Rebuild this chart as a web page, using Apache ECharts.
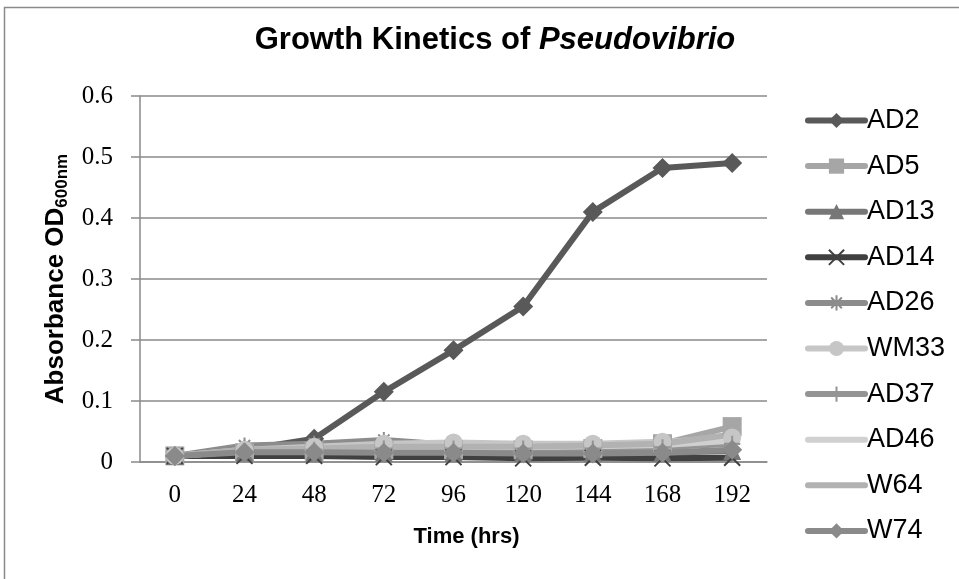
<!DOCTYPE html>
<html>
<head>
<meta charset="utf-8">
<script src="https://cdn.jsdelivr.net/npm/echarts@6/dist/echarts.min.js"></script>
<style>
  html, body { margin: 0; padding: 0; background: #fff; }
  #chart { width: 959px; height: 579px; }
</style>
</head>
<body>
<div id="chart"></div>
<script>
// sampling times (hrs)
const hours = ['0', '24', '48', '72', '96', '120', '144', '168', '192'];

// OD600 readings per strain
const AD2  = [0.010, 0.020, 0.038, 0.115, 0.183, 0.255, 0.410, 0.482, 0.490];
const AD5  = [0.010, 0.015, 0.018, 0.020, 0.020, 0.020, 0.022, 0.030, 0.058];
const AD13 = [0.010, 0.015, 0.015, 0.015, 0.015, 0.015, 0.015, 0.015, 0.018];
const AD14 = [0.010, 0.010, 0.010, 0.008, 0.008, 0.006, 0.007, 0.006, 0.007];
const AD26 = [0.010, 0.027, 0.030, 0.036, 0.028, 0.025, 0.025, 0.028, 0.030];
const WM33 = [0.010, 0.020, 0.025, 0.030, 0.032, 0.030, 0.030, 0.033, 0.040];
const AD37 = [0.010, 0.018, 0.020, 0.022, 0.022, 0.022, 0.022, 0.024, 0.030];
const AD46 = [0.010, 0.018, 0.020, 0.022, 0.024, 0.024, 0.026, 0.028, 0.035];
const W64  = [0.010, 0.020, 0.022, 0.025, 0.025, 0.025, 0.027, 0.030, 0.045];
const W74  = [0.010, 0.016, 0.016, 0.015, 0.015, 0.014, 0.014, 0.015, 0.020];

const xPath = 'path://M0,0L10,10M10,0L0,10';
const starPath = 'path://M5,0L5,10M0,5L10,5M1.5,1.5L8.5,8.5M8.5,1.5L1.5,8.5';
const plusPath = 'path://M5,0L5,10M0,5L10,5';

function line(name, data, color, symbol, extra) {
    const s = {
        name: name,
        type: 'line',
        data: data,
        symbol: symbol,
        symbolSize: 18,
        showSymbol: symbol !== 'line',
        color: color,
        lineStyle: { width: 6, color: color, cap: 'round', join: 'round' },
        itemStyle: { color: color },
        emphasis: { disabled: true },
        animation: false
    };
    return Object.assign(s, extra || {});
}

const strokeSym = (c) => ({
    symbolSize: 16,
    itemStyle: { color: 'rgba(0,0,0,0)', borderColor: c, borderWidth: 2 }
});

const chart = echarts.init(document.getElementById('chart'));

chart.setOption({
    backgroundColor: '#fff',
    title: {
        text: '{a|Growth Kinetics of }{b|Pseudovibrio}',
        left: 490,
        textAlign: 'center',
        top: 20,
        textStyle: {
            rich: {
                a: { fontFamily: 'Liberation Sans, Arial', fontWeight: 'bold', fontSize: 31, color: '#000' },
                b: { fontFamily: 'Liberation Sans, Arial', fontWeight: 'bold', fontStyle: 'italic', fontSize: 31, color: '#000' }
            }
        }
    },
    graphic: [{
        type: 'rect',
        shape: { x: 4.5, y: 7.5, width: 980, height: 600 },
        style: { fill: 'none', stroke: '#8a8a8a', lineWidth: 1.5 },
        silent: true
    }],
    legend: {
        orient: 'vertical',
        left: 800,
        top: 102,
        itemWidth: 57,
        itemHeight: 19,
        itemGap: 18.6,
        lineStyle: { width: 6, cap: 'round' },
        textStyle: { fontFamily: 'Liberation Sans, Arial', fontSize: 27, color: '#000', padding: [0, 0, 0, -3] },
        data: ['AD2', 'AD5', 'AD13', 'AD14', 'AD26', 'WM33', 'AD37', 'AD46', 'W64', 'W74']
    },
    grid: { left: 140, right: 192, top: 96, bottom: 117 },
    xAxis: {
        type: 'category',
        data: hours,
        boundaryGap: true,
        name: 'Time (hrs)',
        nameLocation: 'middle',
        nameGap: 64,
        nameTextStyle: { fontFamily: 'Liberation Sans, Arial', fontWeight: 'bold', fontSize: 22, color: '#000', padding: [0, 0, 0, 26] },
        axisLine: { lineStyle: { color: '#8a8a8a', width: 1.5 } },
        axisTick: { show: false },
        axisLabel: { fontFamily: 'Liberation Serif, serif', fontSize: 25, color: '#000', margin: 21 }
    },
    yAxis: {
        type: 'value',
        min: 0,
        max: 0.6,
        interval: 0.1,
        name: '{m|Absorbance OD}{s|600nm}',
        nameLocation: 'middle',
        nameRotate: 90,
        nameGap: 68,
        nameTextStyle: {
            rich: {
                m: { fontFamily: 'Liberation Sans, Arial', fontWeight: 'bold', fontSize: 26, color: '#000' },
                s: { fontFamily: 'Liberation Sans, Arial', fontWeight: 'bold', fontSize: 17, color: '#000', padding: [13, 0, 0, 0] }
            }
        },
        axisLine: { show: true, lineStyle: { color: '#8a8a8a', width: 1.5 } },
        axisTick: { show: true, length: 9, lineStyle: { color: '#8a8a8a', width: 1.5 } },
        axisLabel: {
            fontFamily: 'Liberation Serif, serif', fontSize: 25, color: '#000', margin: 27,
            formatter: (v) => (v === 0 ? '0' : v.toFixed(1))
        },
        splitLine: { lineStyle: { color: '#8a8a8a', width: 1.5 } }
    },
    series: [
        line('AD2', AD2, '#595959', 'diamond', { symbolSize: 20 }),
        line('AD5', AD5, '#a6a6a6', 'rect', { symbolSize: 19 }),
        line('AD13', AD13, '#777777', 'triangle'),
        line('AD14', AD14, '#404040', xPath, strokeSym('#404040')),
        line('AD26', AD26, '#8c8c8c', starPath, strokeSym('#8c8c8c')),
        line('WM33', WM33, '#c6c6c6', 'circle'),
        line('AD37', AD37, '#949494', plusPath, strokeSym('#949494')),
        line('AD46', AD46, '#d0d0d0', 'line'),
        line('W64', W64, '#b2b2b2', 'line'),
        line('W74', W74, '#8a8a8a', 'diamond', { symbolSize: 20 })
    ]
});
</script>
</body>
</html>
